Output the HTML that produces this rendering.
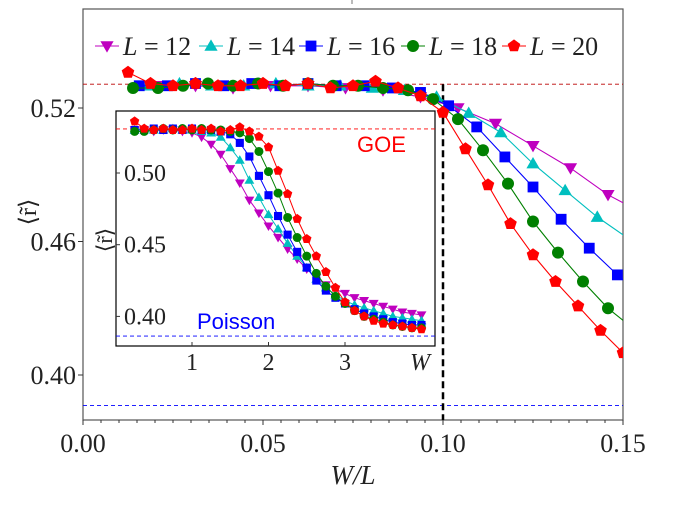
<!DOCTYPE html>
<html><head><meta charset="utf-8">
<style>
body{margin:0;background:#fff;}
svg{display:block;}
.tk{font-family:"Liberation Serif","DejaVu Serif",serif;fill:#222;}
</style></head>
<body>
<svg id="chart" width="680" height="507" viewBox="0 0 680 507" xmlns="http://www.w3.org/2000/svg">
<defs>
<clipPath id="mainClip"><rect x="83" y="9" width="540" height="411"/></clipPath>
</defs>
<rect x="0" y="0" width="680" height="507" fill="#fff"/>
<g id="main"></g>
<g id="inset"></g>
<g id="legend"></g>
</svg>
<script>
// ---- data ----
const Ls = [12, 14, 16, 18, 20];
const W0 = 0.25, dW = 0.125; // W grid start and step (disorder values)
const rL12 = [.530,.530,.529,.530,.530,.529,.528,.525,.520,.513,.503,.493,.481,.472,.463,.455,.447,.440,.433,.427,.422,.419,.416,.413,.411,.409,.407,.405,.403,.402,.401];
const rL14 = [.530,.531,.530,.530,.531,.530,.530,.529,.528,.525,.5177,.509,.495,.483,.471,.461,.451,.442,.434,.426,.420,.415,.411,.408,.406,.404,.402,.400,.399,.398,.397];
const rL16 = [.530,.530,.531,.530,.531,.530,.531,.530,.530,.529,.527,.521,.5115,.498,.4845,.470,.457,.445,.434,.425,.418,.413,.409,.405,.402,.400,.398,.396,.395,.394,.394];
const rL18 = [.529,.529,.530,.531,.530,.531,.530,.531,.530,.530,.529,.528,.524,.515,.501,.486,.469,.455,.442,.430,.421,.414,.409,.404,.400,.398,.396,.394,.393,.392,.392];
const rL20 = [.536,.531,.530,.531,.530,.530,.531,.530,.531,.529,.530,.532,.529,.5254,.518,.5016,.4854,.468,.454,.442,.431,.420,.410,.404,.400,.397,.395,.394,.393,.392,.391];
const GOE = 0.5307, POISSON = 0.3863, Wc_over_L = 0.10;
const mainXTicks = [0.00, 0.05, 0.10, 0.15];
const mainXTickLabels = ["0.00", "0.05", "0.10", "0.15"];
const mainYTicks = [0.40, 0.46, 0.52];
const mainYTickLabels = ["0.40", "0.46", "0.52"];
const insetXTicks = [1, 2, 3];
const insetYTicks = [0.40, 0.45, 0.50];
const insetYTickLabels = ["0.40", "0.45", "0.50"];

const series = [rL12, rL14, rL16, rL18, rL20];
const colors = ["#bf00bf", "#00bfbf", "#0000ff", "#008000", "#ff0000"];
const shapes = ["tdown", "tup", "square", "circle", "pent"];

const NS = "http://www.w3.org/2000/svg";
function mk(tag, attrs, parent){const e=document.createElementNS(NS,tag);for(const k in attrs)e.setAttribute(k,attrs[k]);if(parent)parent.appendChild(e);return e;}

// axis functions
const mX = t => 83 + t * 3600;
const mY = v => 375 - (v - 0.40) * 2225;
const iX = w => 115.5 + w * 76.5;
const iY = v => 173 - (v - 0.50) * 1434;

function marker(g, shape, cx, cy, s, color){
  let e;
  if(shape==="circle") e=mk("circle",{cx:cx,cy:cy,r:s*0.5,fill:color},g);
  else if(shape==="square") e=mk("rect",{x:cx-s*0.45,y:cy-s*0.45,width:s*0.9,height:s*0.9,fill:color},g);
  else if(shape==="tdown") e=mk("polygon",{points:`${cx-s*0.55},${cy-s*0.4} ${cx+s*0.55},${cy-s*0.4} ${cx},${cy+s*0.55}`,fill:color},g);
  else if(shape==="tup") e=mk("polygon",{points:`${cx-s*0.55},${cy+s*0.4} ${cx+s*0.55},${cy+s*0.4} ${cx},${cy-s*0.55}`,fill:color},g);
  else { let p=[]; for(let k=0;k<5;k++){const a=-Math.PI/2+k*2*Math.PI/5;p.push((cx+s*0.55*Math.cos(a)).toFixed(1)+","+(cy+s*0.55*Math.sin(a)).toFixed(1));} e=mk("polygon",{points:p.join(" "),fill:color},g);}
  return e;
}

// ---- main plot ----
const main = document.getElementById("main");
const frame = mk("rect",{x:83,y:9,width:540,height:411,fill:"none",stroke:"#555","stroke-width":1.2},main);


mk("line",{x1:352,y1:0,x2:352,y2:4,stroke:"#777","stroke-width":1},main);
const goeMain = mk("line",{x1:83,y1:mY(GOE),x2:623,y2:mY(GOE),stroke:"#b00","stroke-width":0.9,"stroke-dasharray":"4,3"},main);


const poiMain = mk("line",{x1:83,y1:mY(POISSON),x2:623,y2:mY(POISSON),stroke:"#0000ff","stroke-width":0.9,"stroke-dasharray":"4,3"},main);


const crit = mk("line",{x1:mX(Wc_over_L),y1:mY(GOE),x2:mX(Wc_over_L),y2:420,stroke:"#000","stroke-width":2.5,"stroke-dasharray":"7,4"},main);



// x ticks
for(let i=0;i<=30;i++){const t=i*0.005;const x=mX(t);const major=(i%10===0);mk("line",{x1:x,y1:420,x2:x,y2:major?425:423,stroke:"#333","stroke-width":1},main);}
mainXTicks.forEach((t,i)=>{const tx=mk("text",{x:mX(t),y:452,"text-anchor":"middle","font-size":26,class:"tk"},main);tx.textContent=mainXTickLabels[i];

});
mainYTicks.forEach((v,i)=>{mk("line",{x1:78,y1:mY(v),x2:83,y2:mY(v),stroke:"#333","stroke-width":1},main);const tx=mk("text",{x:76,y:mY(v)+9,"text-anchor":"end","font-size":26,class:"tk"},main);tx.textContent=mainYTickLabels[i];

});
const xl = mk("text",{x:353,y:484,"text-anchor":"middle","font-size":27,class:"tk","font-style":"italic"},main);xl.textContent="W/L";


const yl = mk("text",{x:0,y:0,"text-anchor":"middle","font-size":24,class:"tk",transform:"translate(36,212) rotate(-90)"},main);yl.textContent="⟨r̃⟩";



const mg = mk("g",{"clip-path":"url(#mainClip)"},main);
series.forEach((vals,si)=>{
  const L=Ls[si];const g=mk("g",{},mg);
  
  
  const pts=vals.map((v,i)=>[mX((W0+i*dW)/L),mY(v)]);
  mk("polyline",{points:pts.map(p=>p[0].toFixed(1)+","+p[1].toFixed(1)).join(" "),fill:"none",stroke:colors[si],"stroke-width":1.1},g);
  pts.forEach(p=>{if(p[0]<=625){const m=marker(g,shapes[si],p[0],p[1],12,colors[si]);
    
    }});
});

// ---- inset ----
const inset = document.getElementById("inset");
const ibg = mk("rect",{x:116,y:111,width:319,height:235,fill:"#fff",stroke:"#000","stroke-width":1.2},inset);


const ig = mk("g",{},inset);
const goeI = mk("line",{x1:116,y1:iY(GOE),x2:435,y2:iY(GOE),stroke:"#ff0000","stroke-width":0.9,"stroke-dasharray":"4,3"},ig);


const poiI = mk("line",{x1:116,y1:iY(POISSON),x2:435,y2:iY(POISSON),stroke:"#0000ff","stroke-width":0.9,"stroke-dasharray":"4,3"},ig);


const goeT = mk("text",{x:357,y:152,"font-size":22,fill:"#ff0000","font-family":"'Liberation Sans',sans-serif"},ig);goeT.textContent="GOE";


const poiT = mk("text",{x:197,y:329,"font-size":22,fill:"#0000ff","font-family":"'Liberation Sans',sans-serif"},ig);poiT.textContent="Poisson";


insetXTicks.forEach(w=>{mk("line",{x1:iX(w),y1:346,x2:iX(w),y2:342,stroke:"#333","stroke-width":1},ig);const tx=mk("text",{x:iX(w),y:370,"text-anchor":"middle","font-size":24,class:"tk"},ig);tx.textContent=String(w);

});
const wl = mk("text",{x:420,y:370,"text-anchor":"middle","font-size":24,class:"tk","font-style":"italic"},ig);wl.textContent="W";


insetYTicks.forEach((v,i)=>{mk("line",{x1:116,y1:iY(v),x2:120,y2:iY(v),stroke:"#333","stroke-width":1},ig);const tx=mk("text",{x:124,y:iY(v)+8,"font-size":24,class:"tk"},ig);tx.textContent=insetYTickLabels[i];

});
const iyl = mk("text",{x:0,y:0,"text-anchor":"middle","font-size":22,class:"tk",transform:"translate(112,240) rotate(-90)"},ig);iyl.textContent="⟨r̃⟩";


series.forEach((vals,si)=>{
  const L=Ls[si];const g=mk("g",{},ig);
  
  
  const pts=vals.map((v,i)=>[iX(W0+i*dW),iY(v)]);
  mk("polyline",{points:pts.map(p=>p[0].toFixed(1)+","+p[1].toFixed(1)).join(" "),fill:"none",stroke:colors[si],"stroke-width":1},g);
  pts.forEach(p=>{const m=marker(g,shapes[si],p[0],p[1],9,colors[si]);
    
    });
});

// ---- legend ----
const leg = document.getElementById("legend");
const legX = [107, 211, 311, 413, 514];
Ls.forEach((L,si)=>{
  const g=mk("g",{},leg);
  
  
  mk("line",{x1:legX[si]-12,y1:46,x2:legX[si]+12,y2:46,stroke:colors[si],"stroke-width":1.1},g);
  marker(g,shapes[si],legX[si],46,12,colors[si]);
  const t=mk("text",{x:legX[si]+16,y:55,"font-size":26,class:"tk"},g);
  const a=mk("tspan",{"font-style":"italic"},t);a.textContent="L";
  const b=mk("tspan",{},t);b.textContent=" = "+L;
});
</script>
</body></html>
